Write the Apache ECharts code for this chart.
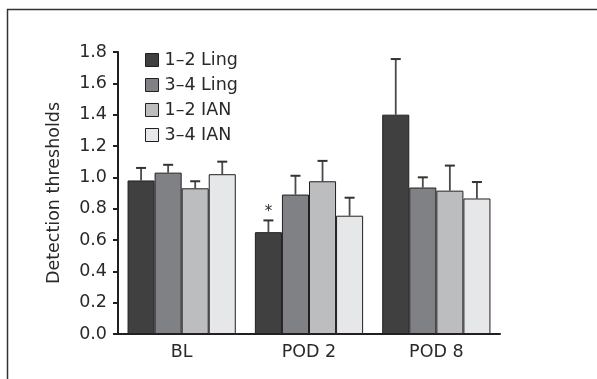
<!DOCTYPE html>
<html>
<head>
<meta charset="utf-8">
<script src="https://cdn.jsdelivr.net/npm/echarts@6/dist/echarts.min.js"></script>
<style>
html,body{margin:0;padding:0;background:#fff;}
#main{width:597px;height:379px;}
</style>
</head>
<body>
<div id="main"></div>
<script>
var categories = ['BL', 'POD 2', 'POD 8'];
var seriesNames = ['1\u20132 Ling', '3\u20134 Ling', '1\u20132 IAN', '3\u20134 IAN'];
var colors = ['#404041', '#808184', '#bcbdbf', '#e6e7e8'];
// mean values per group
var ling12 = [0.98, 0.65, 1.40];
var ling34 = [1.03, 0.89, 0.935];
var ian12 = [0.93, 0.975, 0.915];
var ian34 = [1.02, 0.755, 0.865];
// upper end of error bars
var ling12Err = [1.06, 0.725, 1.755];
var ling34Err = [1.08, 1.01, 1.0];
var ian12Err = [0.975, 1.105, 1.075];
var ian34Err = [1.10, 0.87, 0.97];
// significance marks (series 0)
var stars = ['', '*', ''];

var means = [ling12, ling34, ian12, ian34];
var errs = [ling12Err, ling34Err, ian12Err, ian34Err];
var catGap = 0.15;
var txt = '#2b2829';
var font = 'DejaVu Sans';
var fs = 17.5;

var myChart = echarts.init(document.getElementById('main'));
var series = [];
for (var i = 0; i < 4; i++) {
	series.push({
		name: seriesNames[i],
		type: 'bar',
		data: means[i],
		barGap: '0%',
		barCategoryGap: (catGap * 100) + '%',
		itemStyle: {color: colors[i], borderColor: '#231f20', borderWidth: 1},
		z: 2
	});
}
for (var i = 0; i < 4; i++) {
	(function(idx){
		var data = [];
		for (var k = 0; k < categories.length; k++) {
			data.push([k, means[idx][k], errs[idx][k], idx == 0 ? stars[k] : '']);
		}
		series.push({
			type: 'custom',
			data: data,
			z: 1,
			silent: true,
			renderItem: function(params, api) {
				var band = api.size([1, 0])[0];
				var bw = band * (1 - catGap) / 4;
				var c = api.coord([api.value(0), api.value(1)]);
				var x = c[0] + (idx - 1.5) * bw;
				var top = api.coord([api.value(0), api.value(2)])[1];
				var children = [
					{type: 'line', shape: {x1: x, y1: c[1], x2: x, y2: top}, style: {stroke: '#4a4a4a', lineWidth: 1.8}},
					{type: 'line', shape: {x1: x - 5, y1: top, x2: x + 5, y2: top}, style: {stroke: '#333', lineWidth: 2}}
				];
				var s = data[params.dataIndex][3];
				if (s) {
					children.push({type: 'text', style: {text: s, x: x, y: top - 1, textAlign: 'center', textVerticalAlign: 'bottom', fontSize: 15, fontFamily: font, fill: txt}});
				}
				return {type: 'group', children: children};
			}
		});
	})(i);
}

var option = {
	animation: false,
	textStyle: {fontFamily: font},
	grid: {left: 118, right: 97, top: 52, bottom: 45},
	legend: {
		data: seriesNames,
		orient: 'vertical',
		left: 140,
		top: 46,
		itemWidth: 13,
		itemHeight: 13,
		itemGap: 7,
		icon: 'rect',
		itemStyle: {borderColor: '#231f20', borderWidth: 1},
		textStyle: {fontSize: fs, color: txt, fontFamily: font, padding: [0, 0, 0, 1]}
	},
	xAxis: {
		type: 'category',
		data: categories,
		axisLine: {lineStyle: {color: '#231f20', width: 2}},
		axisTick: {show: false},
		axisLabel: {fontSize: fs, color: txt, margin: 9}
	},
	yAxis: {
		type: 'value',
		min: 0,
		max: 1.8,
		interval: 0.2,
		name: 'Detection thresholds',
		nameLocation: 'middle',
		nameGap: 55,
		nameTextStyle: {fontSize: fs, color: txt},
		splitLine: {show: false},
		axisLine: {show: true, lineStyle: {color: '#231f20', width: 2}},
		axisTick: {show: true, length: 5, lineStyle: {color: '#231f20', width: 2}},
		axisLabel: {fontSize: fs, color: txt, margin: 11, formatter: function(v){ return v.toFixed(1); }}
	},
	graphic: [
		{type: 'line', shape: {x1: 7, y1: 9.5, x2: 597, y2: 9.5}, style: {stroke: '#333', lineWidth: 1.5}},
		{type: 'line', shape: {x1: 7.5, y1: 9, x2: 7.5, y2: 379}, style: {stroke: '#333', lineWidth: 1.5}}
	],
	series: series
};
myChart.setOption(option);
</script>
</body>
</html>
